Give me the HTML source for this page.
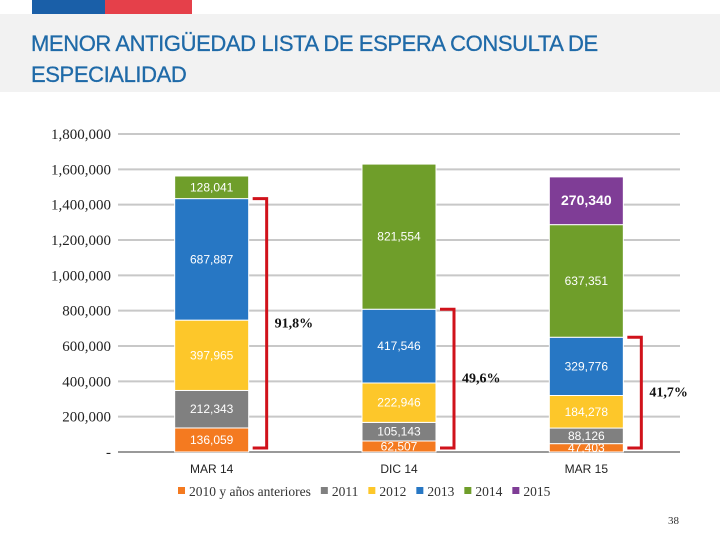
<!DOCTYPE html>
<html><head><meta charset="utf-8"><style>
body{margin:0;width:720px;height:540px;background:#fff;position:relative;overflow:hidden;font-family:"Liberation Sans",sans-serif}
.hdr{position:absolute;left:0;top:14px;width:720px;height:78px;background:#f2f2f2}
.t{position:absolute;left:31px;top:28px;font-size:22px;color:#1f6aa8;line-height:31px;letter-spacing:-0.4px;white-space:nowrap;-webkit-text-stroke:0.3px #1f6aa8}
</style></head><body>
<div style="position:absolute;left:32px;top:0;width:73px;height:14px;background:#1a5fa8"></div>
<div style="position:absolute;left:105px;top:0;width:87px;height:14px;background:#e5404a"></div>
<div class="hdr"></div>
<div class="t">MENOR ANTIGÜEDAD LISTA DE ESPERA CONSULTA DE<br>ESPECIALIDAD</div>
<svg id="c" width="720" height="540" style="position:absolute;left:0;top:0"></svg>
<div style="position:absolute;left:668px;top:515px;font-family:'Liberation Serif',serif;font-size:11px;color:#333">38</div>
<script>
const categories=["MAR 14","DIC 14","MAR 15"];
const seriesNames=["2010 y años anteriores","2011","2012","2013","2014","2015"];
const colors=["#f47a20","#808080","#fdc72a","#2777c4","#6f9e2a","#7f3d96"];
const s2010=[136059,62507,47403];
const s2011=[212343,105143,88126];
const s2012=[397965,222946,184278];
const s2013=[687887,417546,329776];
const s2014=[128041,821554,637351];
const s2015=[0,0,270340];
const yTicks=[0,200000,400000,600000,800000,1000000,1200000,1400000,1600000,1800000];
const pctLabels=["91,8%","49,6%","41,7%"];
const series=[s2010,s2011,s2012,s2013,s2014,s2015];
const NS="http://www.w3.org/2000/svg",svg=document.getElementById('c');
const x0=118,x1=680,yb=452,yt=134,ymax=1800000;
const Y=v=>yb-(v/ymax)*(yb-yt);
const band=(x1-x0)/categories.length;
const X=i=>x0+band*(i+0.5);
const bw=74;
function mk(t,a,txt){const e=document.createElementNS(NS,t);for(const k in a)e.setAttribute(k,a[k]);if(txt!=null)e.textContent=txt;svg.appendChild(e);return e;}
yTicks.forEach((v,i)=>{
 if(i>0){const g=mk('line',{x1:x0,x2:x1,y1:Y(v),y2:Y(v),stroke:'#c8c8c8','stroke-width':2});
 }
 const t=mk('text',{x:111,y:Y(v)+5,'text-anchor':'end','font-family':'Liberation Serif, serif','font-size':15,fill:'#222'},v===0?'-':v.toLocaleString('en-US'));
 
});
const ax=mk('line',{x1:x0,x2:x1,y1:yb,y2:yb,stroke:'#999','stroke-width':2});

categories.forEach((c,i)=>{
 let cum=0;const cx=X(i);
 series.forEach((s,k)=>{
  const v=s[i];if(!v)return;
  const ya=Y(cum),yb2=Y(cum+v);cum+=v;
  const r=mk('rect',{x:cx-bw/2,y:yb2,width:bw,height:ya-yb2,fill:colors[k],stroke:'#fff','stroke-width':1});
  
  const bold=(k===5);
  const l=mk('text',{x:cx,y:(ya+yb2)/2+4,'text-anchor':'middle','font-size':bold?14:12,'font-weight':bold?'bold':'normal',fill:'#fff'},v.toLocaleString('en-US'));
  
 });
 const cl=mk('text',{x:cx,y:473,'text-anchor':'middle','font-size':12,fill:'#222'},c);
 
 const top=Y(s2010[i]+s2011[i]+s2012[i]+s2013[i]),bot=Y(0)-4;
 const bx=cx+bw/2+4,bx2=bx+14;
 const p=mk('path',{d:`M${bx} ${top} L${bx2} ${top} L${bx2} ${bot} L${bx} ${bot}`,fill:'none',stroke:'#d0121b','stroke-width':3});
 
 const pl=mk('text',{x:bx2+8,y:(top+bot)/2+4,'font-family':'Liberation Serif, serif','font-size':14,'font-weight':'bold',fill:'#111'},pctLabels[i]);
 
});
let lx=178;
seriesNames.forEach((n,k)=>{
 const r=mk('rect',{x:lx,y:487,width:7,height:7,fill:colors[k]});
 
 const t=mk('text',{x:lx+11,y:496,'font-family':'Liberation Serif, serif','font-size':13.5,fill:'#333'},n);
 
 lx+=11+t.getComputedTextLength()+10;
});
</script>
</body></html>
